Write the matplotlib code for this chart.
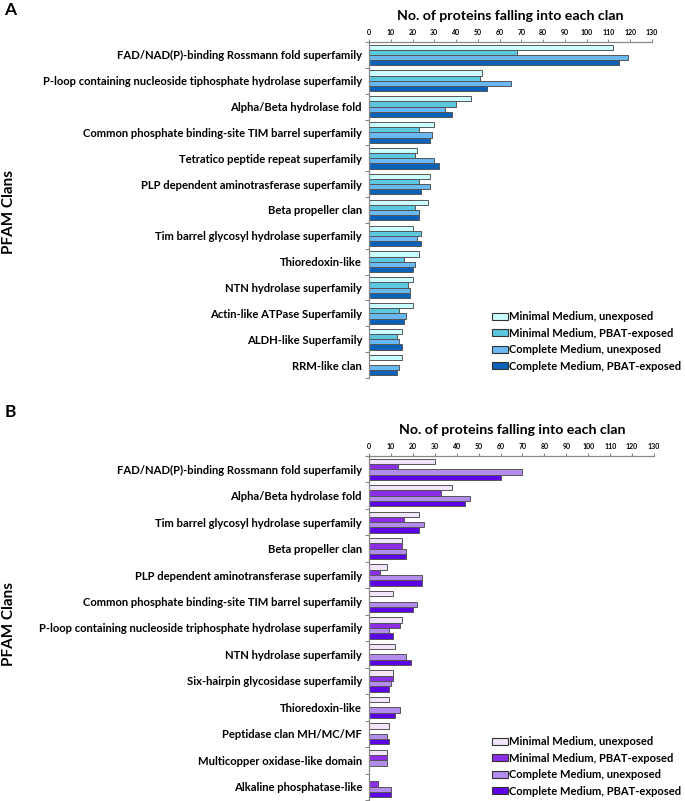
import matplotlib
matplotlib.use("Agg")
import matplotlib.pyplot as plt
import numpy as np
from matplotlib.patches import Patch

plt.rcParams['font.family'] = ['Lato', 'DejaVu Sans']
plt.rcParams['font.weight'] = 'bold'

series_names = ["Minimal Medium, unexposed", "Minimal Medium, PBAT-exposed",
                "Complete Medium, unexposed", "Complete Medium, PBAT-exposed"]

catsA = ["FAD/NAD(P)-binding Rossmann fold superfamily",
         "P-loop containing nucleoside tiphosphate hydrolase superfamily",
         "Alpha/Beta hydrolase fold",
         "Common phosphate binding-site TIM barrel superfamily",
         "Tetratico peptide repeat superfamily",
         "PLP dependent aminotrasferase superfamily",
         "Beta propeller clan",
         "Tim barrel glycosyl hydrolase superfamily",
         "Thioredoxin-like",
         "NTN hydrolase superfamily",
         "Actin-like ATPase Superfamily",
         "ALDH-like Superfamily",
         "RRM-like clan"]
A_mm_unexp = [112, 52, 47, 30, 22, 28, 27, 20, 23, 20, 20, 15, 15]
A_mm_pbat = [68, 51, 40, 23, 21, 23, 21, 24, 16, 18, 14, 13, 0]
A_cm_unexp = [119, 65, 35, 29, 30, 28, 23, 22, 21, 19, 17, 14, 14]
A_cm_pbat = [115, 54, 38, 28, 32, 24, 23, 24, 20, 19, 16, 15, 13]

catsB = ["FAD/NAD(P)-binding Rossmann fold superfamily",
         "Alpha/Beta hydrolase fold",
         "Tim barrel glycosyl hydrolase superfamily",
         "Beta propeller clan",
         "PLP dependent aminotransferase superfamily",
         "Common phosphate binding-site TIM barrel superfamily",
         "P-loop containing nucleoside triphosphate hydrolase superfamily",
         "NTN hydrolase superfamily",
         "Six-hairpin glycosidase superfamily",
         "Thioredoxin-like",
         "Peptidase clan MH/MC/MF",
         "Multicopper oxidase-like domain",
         "Alkaline phosphatase-like"]
B_mm_unexp = [30, 38, 23, 15, 8, 11, 15, 12, 11, 9, 9, 8, 0]
B_mm_pbat = [13, 33, 16, 15, 5, 0, 14, 0, 11, 0, 0, 8, 4]
B_cm_unexp = [70, 46, 25, 17, 24, 22, 9, 17, 10, 14, 8, 8, 10]
B_cm_pbat = [60, 44, 23, 17, 24, 20, 11, 19, 9, 12, 9, 0, 10]

colorsA = ["#ccffff", "#5cc8e0", "#6ab8f2", "#0a62b8"]
colorsB = ["#f2e4fa", "#8c2ee6", "#b48cee", "#5c06e6"]

xticks = list(range(0, 131, 10))

W, H = 685, 801
fig = plt.figure(figsize=(W / 100, H / 100), dpi=100)


def fx(px):
    return px / W


def fy(py):
    return 1 - py / H


def draw_panel(rect, cats, series, colors, legend_y):
    ax = fig.add_axes(rect)
    n = len(cats)
    y = np.arange(n)
    h = 0.2
    for j, (vals, col) in enumerate(zip(series, colors)):
        ax.barh(y + (j - 1.5) * h, vals, height=h, color=col,
                edgecolor="#555555", linewidth=0.7)
    ax.set_ylim(n - 0.5, -0.5)
    ax.set_xlim(0, 130)
    ax.set_yticks(y)
    ax.set_yticklabels(cats, fontsize=8.1, fontweight='bold')
    ax.set_yticks(np.arange(n + 1) - 0.5, minor=True)
    ax.tick_params(axis='y', which='major', length=0, pad=5)
    ax.tick_params(axis='y', which='minor', length=3, color="#888888", width=0.8)
    ax.xaxis.tick_top()
    ax.set_xticks(xticks)
    ax.set_xticklabels([str(t) for t in xticks], fontsize=5, fontweight='bold')
    ax.tick_params(axis='x', length=2.5, color="#888888", width=0.8, pad=2)
    for s in ['right', 'bottom']:
        ax.spines[s].set_visible(False)
    for s in ['left', 'top']:
        ax.spines[s].set_color("#888888")
        ax.spines[s].set_linewidth(0.9)
    handles = [Patch(facecolor=c, edgecolor="#333333", linewidth=0.8, label=l)
               for c, l in zip(colors, series_names)]
    fig.legend(handles=handles, loc='upper left',
               bbox_to_anchor=(fx(492), fy(legend_y)), frameon=False,
               prop={'weight': 'bold', 'size': 8.0},
               handlelength=1.4, handleheight=0.6, handletextpad=0.1,
               labelspacing=0.5, borderaxespad=0, borderpad=0)
    return ax


axA = draw_panel([fx(369), fy(378), fx(652) - fx(369), fy(42) - fy(378)],
                 catsA, [A_mm_unexp, A_mm_pbat, A_cm_unexp, A_cm_pbat],
                 colorsA, 311)
axB = draw_panel([fx(369), fy(800), fx(654) - fx(369), fy(456) - fy(800)],
                 catsB, [B_mm_unexp, B_mm_pbat, B_cm_unexp, B_cm_pbat],
                 colorsB, 736)

fig.text(fx(510), fy(16), "No. of proteins falling into each clan",
         ha='center', va='center', fontsize=10.2, fontweight='bold')
fig.text(fx(512), fy(430), "No. of proteins falling into each clan",
         ha='center', va='center', fontsize=10.2, fontweight='bold')
fig.text(fx(10), fy(10), "A", ha='center', va='center', fontsize=12.5, fontweight='bold')
fig.text(fx(10), fy(412), "B", ha='center', va='center', fontsize=12.5, fontweight='bold')
fig.text(fx(9), fy(212), "PFAM Clans", rotation=90, ha='center', va='center',
         fontsize=11, fontweight='bold')
fig.text(fx(9), fy(624), "PFAM Clans", rotation=90, ha='center', va='center',
         fontsize=11, fontweight='bold')

fig.savefig("out.png", dpi=100)
